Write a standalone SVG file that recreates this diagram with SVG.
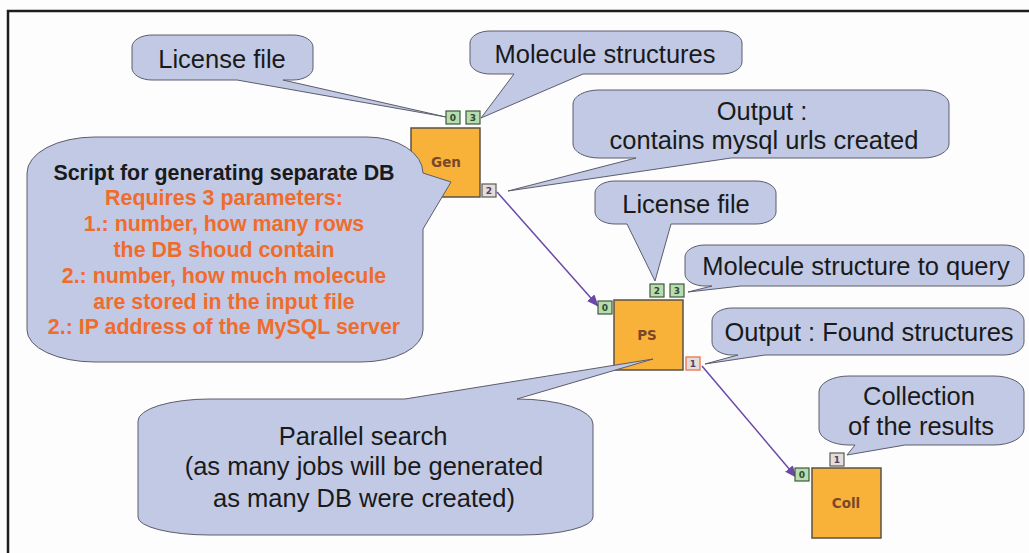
<svg xmlns="http://www.w3.org/2000/svg" width="1029" height="553" viewBox="0 0 1029 553">
<style>
.bub{fill:#c1c9e5;stroke:#5c5c6c;stroke-width:1}
.bt{font-family:"Liberation Sans",Arial,sans-serif;font-size:25.5px;fill:#1a1a1a;text-anchor:middle}
.bb{font-family:"Liberation Sans",Arial,sans-serif;font-size:21.4px;font-weight:bold;text-anchor:middle}
.box{fill:#f8b23a;stroke:#5a5248;stroke-width:1.5}
.nl{font-family:"DejaVu Sans",sans-serif;font-size:13.5px;font-weight:bold;fill:#7a4828;text-anchor:middle}
.pin{fill:#b6dcb0;stroke:#3e5a3e;stroke-width:1.2}
.pout{fill:#e3ded9;stroke:#5e5a58;stroke-width:1.2}
.pact{fill:#e3ded9;stroke:#f07a50;stroke-width:1.4}
.pd{font-family:"DejaVu Sans",sans-serif;font-size:9px;font-weight:bold;fill:#2f4a2f;text-anchor:middle}
.pdo{font-family:"DejaVu Sans",sans-serif;font-size:9px;font-weight:bold;fill:#4b3f6b;text-anchor:middle}
.con{stroke:#6a48a8;stroke-width:1.5;fill:none;marker-end:url(#arr)}
</style>
<defs>
<marker id="arr" markerUnits="userSpaceOnUse" markerWidth="12" markerHeight="10" refX="11" refY="5" orient="auto">
<path d="M0,0 L12,5 L0,10 Z" fill="#6a48a8"/>
</marker>
</defs>
<rect x="0" y="0" width="1029" height="553" fill="#fdfdfd"/>
<rect x="8" y="11" width="1040" height="560" fill="none" stroke="#1e1e1e" stroke-width="2.5"/>
<g id="connectors">
<line class="con" x1="497" y1="192" x2="598" y2="306"/>
<line class="con" x1="702" y1="366" x2="796" y2="477"/>
</g>
<g id="node-gen">
<rect class="box" x="411" y="128" width="69" height="69"/>
<text class="nl" x="446" y="167">Gen</text>
<rect class="pin" x="446" y="111" width="14" height="13"/>
<text class="pd" x="453" y="121">0</text>
<rect class="pin" x="466" y="111" width="14" height="13"/>
<text class="pd" x="473" y="121">3</text>
<rect class="pout" x="482" y="184" width="14" height="13"/>
<text class="pdo" x="489" y="194">2</text>
</g>
<g id="node-ps">
<rect class="box" x="614" y="300" width="69" height="70"/>
<text class="nl" x="647" y="340">PS</text>
<rect class="pin" x="598" y="301" width="14" height="13"/>
<text class="pd" x="605" y="311">0</text>
<rect class="pin" x="650" y="284" width="14" height="13"/>
<text class="pd" x="657" y="294">2</text>
<rect class="pin" x="670" y="284" width="14" height="13"/>
<text class="pd" x="677" y="294">3</text>
<rect class="pact" x="686" y="357" width="14" height="13"/>
<text class="pdo" x="693" y="367">1</text>
</g>
<g id="node-coll">
<rect class="box" x="812" y="468" width="69" height="70"/>
<text class="nl" x="846" y="508">Coll</text>
<rect class="pin" x="795" y="468" width="14" height="13"/>
<text class="pd" x="802" y="478">0</text>
<rect class="pout" x="830" y="453" width="14" height="13"/>
<text class="pdo" x="837" y="463">1</text>
</g>
<g id="note-license-gen">
<path class="bub" d="M152,35 H293 A20 12 0 0 1 313,47 V68 A20 12 0 0 1 293,80 H283 L446,117 L237,80 H152 A20 12 0 0 1 132,68 V47 A20 12 0 0 1 152,35 Z"/>
<text class="bt" x="222" y="68">License file</text>
</g>
<g id="note-molecules">
<path class="bub" d="M490,31 H722 A20 12 0 0 1 742,43 V62 A20 12 0 0 1 722,74 H583 L481,118 L514,74 H490 A20 12 0 0 1 470,62 V43 A20 12 0 0 1 490,31 Z"/>
<text class="bt" x="605" y="63">Molecule structures</text>
</g>
<g id="note-output-gen">
<path class="bub" d="M599,90 H923 A26 14 0 0 1 949,104 V144 A26 14 0 0 1 923,158 H731 L508,191 L636,158 H599 A26 14 0 0 1 573,144 V104 A26 14 0 0 1 599,90 Z"/>
<text class="bt" x="762" y="120">Output :</text>
<text class="bt" x="764" y="149">contains mysql urls created</text>
</g>
<g id="note-script">
<path class="bub" d="M95,137 H367 A56 36 0 0 1 423,173 L451,182 L423,229 V330 A62 32 0 0 1 361,362 H95 A68 32 0 0 1 27,330 V173 A68 36 0 0 1 95,137 Z"/>
<text class="bb" x="224" y="180" fill="#1a1a1a">Script for generating separate DB</text>
<text class="bb" x="224" y="205" fill="#f06c2c">Requires 3 parameters:</text>
<text class="bb" x="224" y="231" fill="#f06c2c">1.: number, how many rows</text>
<text class="bb" x="224" y="257" fill="#f06c2c">the DB shoud contain</text>
<text class="bb" x="224" y="283" fill="#f06c2c">2.: number, how much molecule</text>
<text class="bb" x="224" y="309" fill="#f06c2c">are stored in the input file</text>
<text class="bb" x="224" y="334" fill="#f06c2c">2.: IP address of the MySQL server</text>
</g>
<g id="note-license-ps">
<path class="bub" d="M615,181 H756 A20 12 0 0 1 776,193 V212 A20 12 0 0 1 756,224 H671 L655,281 L627,224 H615 A20 12 0 0 1 595,212 V193 A20 12 0 0 1 615,181 Z"/>
<text class="bt" x="686" y="213">License file</text>
</g>
<g id="note-query">
<path class="bub" d="M705,245 H1004 A20 12 0 0 1 1024,257 V274 A20 12 0 0 1 1004,286 H741 L688,292 L712,286 H705 A20 12 0 0 1 685,274 V257 A20 12 0 0 1 705,245 Z"/>
<text class="bt" x="856" y="275">Molecule structure to query</text>
</g>
<g id="note-output-ps">
<path class="bub" d="M732,308 H1004 A20 13 0 0 1 1024,321 V342 A20 13 0 0 1 1004,355 H765 L705,364 L738,355 H732 A20 13 0 0 1 712,342 V321 A20 13 0 0 1 732,308 Z"/>
<text class="bt" x="869" y="341">Output : Found structures</text>
</g>
<g id="note-collection">
<path class="bub" d="M849,376 H994 A30 16 0 0 1 1024,392 V429 A30 16 0 0 1 994,445 H905 L847,455 L855,445 H849 A30 16 0 0 1 819,429 V392 A30 16 0 0 1 849,376 Z"/>
<text class="bt" x="919" y="405">Collection</text>
<text class="bt" x="921" y="435">of the results</text>
</g>
<g id="note-parallel">
<path class="bub" d="M210,399 H405 L653,359 L517,399 A76 25 0 0 1 593,424 V517 A72 18 0 0 1 521,535 H210 A72 18 0 0 1 138,517 V421 A72 22 0 0 1 210,399 Z"/>
<text class="bt" x="363" y="445">Parallel search</text>
<text class="bt" x="364" y="475">(as many jobs will be generated</text>
<text class="bt" x="364" y="507">as many DB were created)</text>
</g>
</svg>
